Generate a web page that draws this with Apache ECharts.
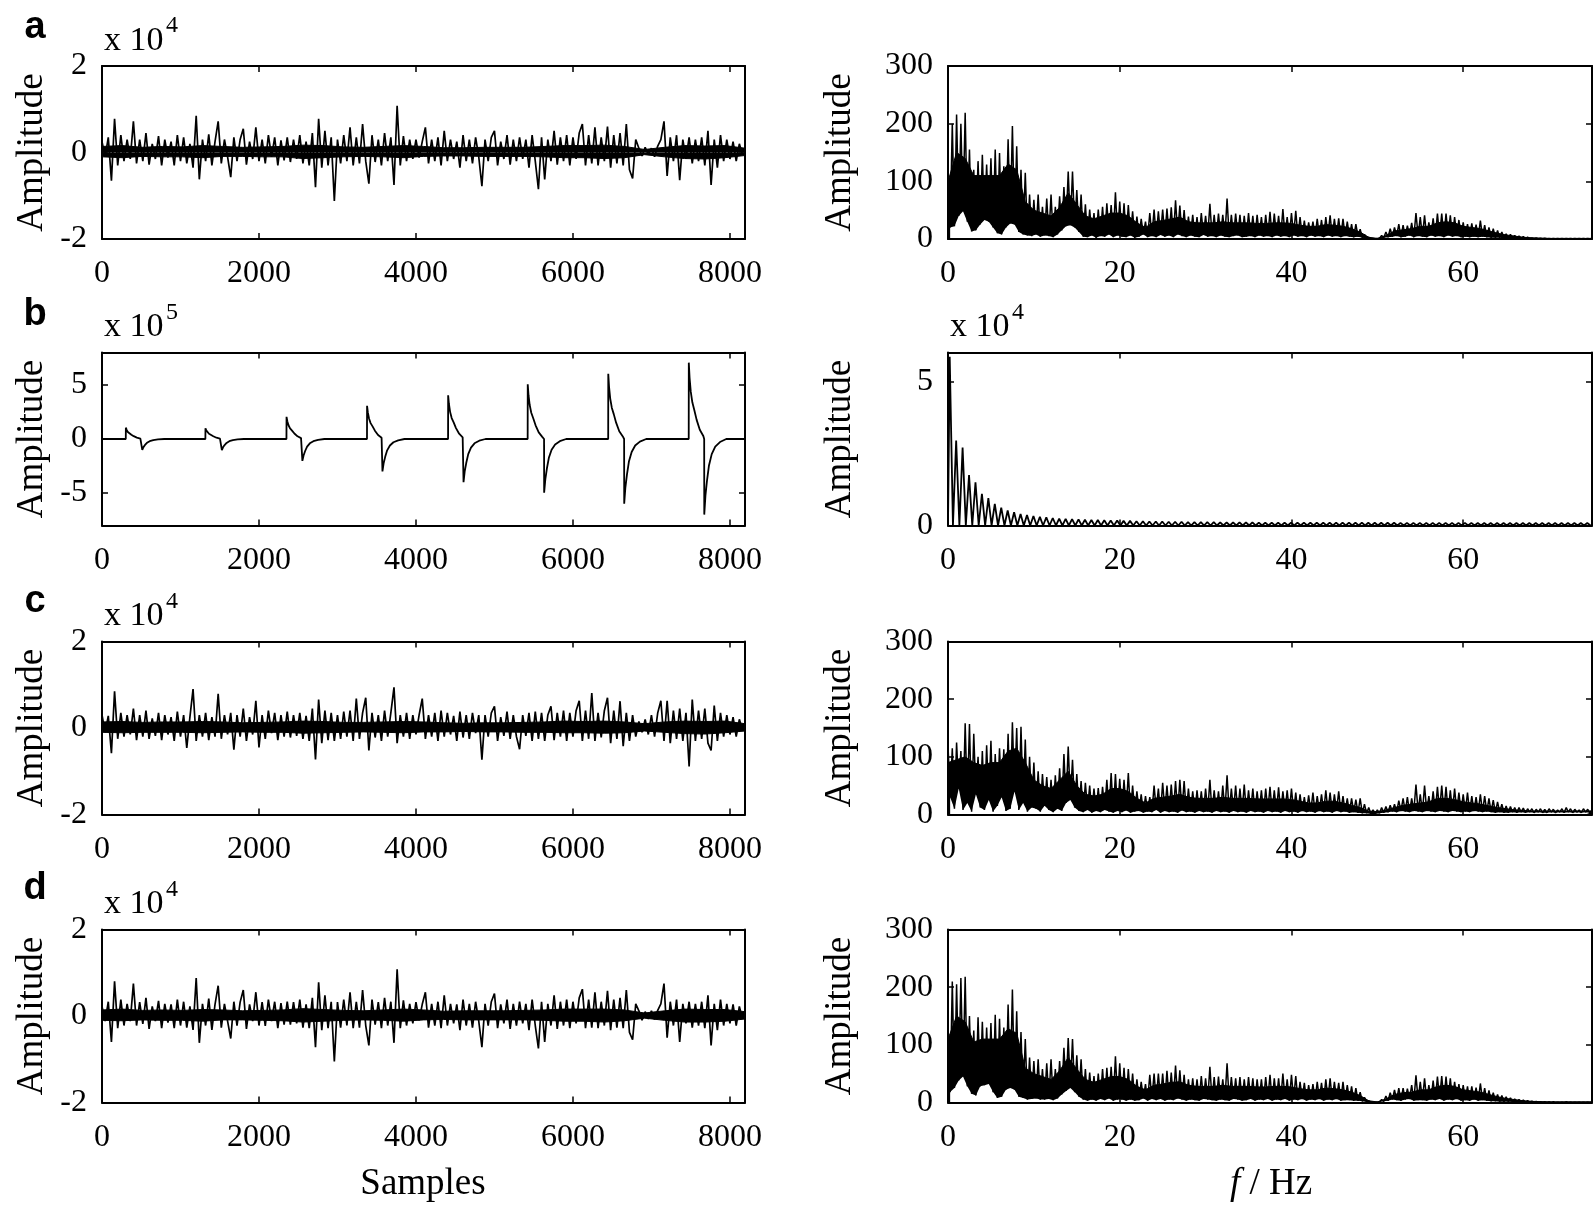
<!DOCTYPE html>
<html><head><meta charset="utf-8">
<script src="https://cdn.jsdelivr.net/npm/echarts/dist/echarts.min.js"></script>
<style>html,body{margin:0;padding:0;background:#fff}#c{width:1594px;height:1207px}</style>
</head><body><div id="c"></div>
<script>
// ---------------- DATA ----------------
// Time signals: one value every SAMPLE_STEP samples (units of the axis multiplier)
const SAMPLE_STEP = 40;
const sampleTicks = [0, 2000, 4000, 6000, 8000];
const freqTicks = [0, 20, 40, 60];
const noiseTicks = [-2, 0, 2];
const pulseTicks = [-5, 0, 5];
const specTicks = [0, 100, 200, 300];
const specBTicks = [0, 5];
const panelLetters = ['a', 'b', 'c', 'd'];
const multipliers = ['4', '5', '4', '4'];

const sigA = [0.25,-0.1,0.35,-0.65,0.78,-0.3,0.4,-0.2,0.3,-0.15,
0.72,-0.25,0.3,-0.2,0.45,-0.28,0.2,-0.15,0.38,-0.3,
0.3,-0.12,0.25,-0.3,0.4,-0.2,0.35,-0.25,0.2,-0.35,
0.85,-0.62,0.3,-0.2,0.42,-0.3,0.25,0.72,-0.25,0.3,
-0.1,-0.57,0.35,-0.2,0.3,0.55,-0.28,0.25,-0.15,0.58,
-0.2,0.3,-0.25,0.4,-0.1,0.35,-0.3,0.28,-0.18,0.35,
-0.22,0.3,-0.15,0.4,-0.25,0.25,-0.3,0.45,-0.8,0.78,
-0.35,0.5,-0.3,0.35,-1.12,0.3,-0.25,0.4,-0.2,0.58,
-0.3,0.35,-0.25,0.66,-0.2,-0.72,0.4,-0.22,0.3,-0.3,
0.45,-0.2,0.35,-0.75,1.08,-0.3,0.38,-0.2,0.3,-0.15,
0.3,-0.12,0.25,0.58,-0.25,0.3,-0.2,0.35,-0.3,0.5,
-0.2,0.3,-0.15,0.25,-0.35,0.4,-0.2,0.3,-0.25,0.35,
-0.1,-0.78,0.3,-0.2,0.35,0.5,-0.3,0.25,-0.15,0.4,
-0.28,0.3,-0.2,0.35,-0.15,0.3,-0.35,0.4,-0.2,-0.85,
0.35,-0.62,0.3,-0.2,0.5,-0.28,0.35,-0.2,0.4,-0.3,
0.35,-0.15,0.45,0.66,-0.3,0.4,-0.25,0.58,-0.3,0.35,
-0.2,0.6,-0.35,0.4,-0.25,0.45,-0.3,0.66,-0.4,-0.6,
0.3,0.1,-0.08,0.12,-0.05,0.1,-0.1,0.15,0.3,0.72,
-0.54,0.35,-0.2,0.4,-0.64,0.3,-0.15,0.35,-0.25,0.3,
-0.2,0.35,-0.3,0.5,-0.75,0.3,-0.35,0.4,-0.2,0.3,
-0.15,0.25,-0.2,0.2,-0.05];

const sigC = [0.3,-0.1,0.28,-0.58,0.85,-0.25,0.35,-0.2,0.3,-0.15,
0.45,-0.28,0.3,-0.2,0.4,-0.25,0.22,-0.18,0.35,-0.28,
0.3,-0.15,0.25,-0.3,0.38,-0.2,0.3,-0.46,0.25,0.9,
-0.3,0.3,-0.2,0.35,-0.28,0.25,-0.2,0.79,-0.25,0.3,
-0.15,0.35,-0.5,0.3,-0.2,0.45,-0.3,0.25,-0.15,0.63,
-0.45,0.3,-0.25,0.4,-0.12,0.35,-0.28,0.3,-0.2,0.38,
-0.22,0.3,-0.18,0.35,-0.25,0.28,-0.3,0.45,-0.73,0.66,
-0.35,0.4,-0.28,0.35,-0.3,0.3,-0.25,0.38,-0.2,0.4,
-0.3,0.68,-0.25,0.35,0.7,-0.52,0.35,-0.22,0.3,-0.3,
0.4,-0.2,0.35,0.94,-0.35,0.3,-0.2,0.35,-0.25,0.3,
-0.15,0.3,0.68,-0.25,0.3,-0.2,0.35,-0.3,0.4,-0.2,
0.35,-0.15,0.28,-0.3,0.38,-0.22,0.3,-0.25,0.35,-0.12,
0.3,-0.73,0.3,-0.2,0.35,0.5,-0.3,0.25,-0.18,0.38,
-0.25,0.3,-0.2,-0.49,0.3,-0.18,0.35,-0.3,0.38,-0.25,
0.35,-0.3,0.3,0.5,-0.28,0.35,-0.2,0.4,-0.3,0.35,
-0.2,0.4,0.63,-0.3,0.4,-0.25,0.81,-0.3,0.35,-0.22,
0.4,0.7,-0.35,0.4,-0.25,0.62,-0.42,0.35,-0.3,0.3,
-0.2,0.15,-0.1,0.2,-0.15,0.3,-0.2,0.35,0.63,-0.3,
0.63,-0.35,0.4,-0.25,0.45,-0.3,0.35,-0.89,0.66,-0.3,
0.4,-0.25,0.45,-0.35,-0.52,0.52,-0.3,0.35,-0.2,0.3,
-0.15,0.25,-0.2,0.2,-0.05];

const sigD = [0.22,-0.12,0.33,-0.6,0.8,-0.28,0.38,-0.22,0.28,-0.12,
0.75,-0.22,0.32,-0.18,0.42,-0.3,0.22,-0.12,0.35,-0.28,
0.28,-0.15,0.27,-0.28,0.38,-0.22,0.33,-0.27,0.22,-0.32,
0.88,-0.62,0.28,-0.22,0.4,-0.32,0.27,0.7,-0.27,0.28,
-0.12,-0.52,0.33,-0.22,0.32,0.6,-0.3,0.27,-0.12,0.55,
-0.22,0.32,-0.23,0.38,-0.12,0.33,-0.28,0.3,-0.2,0.33,
-0.2,0.32,-0.17,0.38,-0.27,0.27,-0.28,0.42,-0.72,0.78,
-0.33,0.48,-0.28,0.33,-1.05,0.32,-0.27,0.38,-0.22,0.55,
-0.28,0.33,-0.27,0.6,-0.22,-0.68,0.38,-0.2,0.32,-0.28,
0.42,-0.22,0.33,-0.62,1.08,-0.28,0.36,-0.22,0.28,-0.17,
0.32,-0.1,0.27,0.55,-0.27,0.28,-0.22,0.33,-0.28,0.48,
-0.22,0.28,-0.17,0.27,-0.33,0.38,-0.22,0.28,-0.27,0.33,
-0.12,-0.72,0.28,-0.22,0.33,0.52,-0.28,0.27,-0.17,0.38,
-0.3,0.28,-0.22,0.33,-0.17,0.28,-0.33,0.38,-0.22,-0.75,
0.33,-0.6,0.28,-0.22,0.48,-0.3,0.33,-0.22,0.38,-0.28,
0.33,-0.17,0.42,0.62,-0.28,0.38,-0.27,0.55,-0.28,0.33,
-0.22,0.58,-0.33,0.38,-0.27,0.42,-0.28,0.6,-0.38,-0.55,
0.28,0.12,-0.1,0.1,-0.07,0.12,-0.08,0.13,0.28,0.75,
-0.5,0.33,-0.22,0.38,-0.6,0.28,-0.17,0.33,-0.27,0.28,
-0.22,0.33,-0.28,0.48,-0.68,0.28,-0.33,0.38,-0.22,0.28,
-0.17,0.27,-0.22,0.22,-0.07];

// Dense core of each noise signal: upper / lower edge every ENV_STEP samples (0..8192)
const ENV_STEP = 256;
const bandAUp = [0.14,0.16,0.12,0.14,0.13,0.16,0.14,0.12,0.13,0.14,0.17,0.16,0.13,0.12,0.14,0.16,0.14,0.11,0.11,0.12,0.12,0.12,0.14,0.16,0.16,0.17,0.14,0.07,0.12,0.16,0.15,0.16,0.1];
const bandALow = [-0.1,-0.12,-0.09,-0.1,-0.1,-0.12,-0.09,-0.09,-0.1,-0.1,-0.14,-0.12,-0.1,-0.09,-0.1,-0.12,-0.09,-0.08,-0.08,-0.09,-0.09,-0.09,-0.1,-0.12,-0.12,-0.14,-0.12,-0.05,-0.1,-0.14,-0.15,-0.12,-0.07];
const bandCUp = [0.14,0.15,0.13,0.14,0.14,0.15,0.14,0.12,0.13,0.14,0.16,0.15,0.13,0.13,0.14,0.15,0.14,0.12,0.11,0.12,0.12,0.13,0.14,0.16,0.15,0.16,0.14,0.1,0.14,0.16,0.15,0.16,0.1];
const bandCLow = [-0.1,-0.11,-0.1,-0.1,-0.1,-0.11,-0.1,-0.09,-0.1,-0.1,-0.12,-0.11,-0.1,-0.09,-0.1,-0.11,-0.09,-0.09,-0.08,-0.09,-0.09,-0.1,-0.1,-0.11,-0.11,-0.12,-0.11,-0.07,-0.1,-0.13,-0.14,-0.11,-0.07];
const bandDUp = [0.14,0.16,0.13,0.14,0.13,0.15,0.14,0.12,0.13,0.14,0.17,0.15,0.13,0.12,0.14,0.16,0.14,0.11,0.12,0.12,0.12,0.13,0.14,0.16,0.16,0.16,0.14,0.07,0.12,0.16,0.15,0.15,0.1];
const bandDLow = [-0.1,-0.11,-0.09,-0.1,-0.1,-0.12,-0.09,-0.09,-0.1,-0.11,-0.14,-0.12,-0.1,-0.09,-0.1,-0.12,-0.09,-0.08,-0.09,-0.09,-0.09,-0.09,-0.1,-0.12,-0.12,-0.14,-0.11,-0.05,-0.1,-0.14,-0.14,-0.12,-0.07];

// Signal b: [sample, value x1e5] read at the pulse onsets and along their decays
const sigB = [[0,0],[303,0],
[304,1.05],[314,0.84],[329,0.65],[349,0.5],[374,0.4],[404,0.26],[444,0.13],[489,0.04],
[512,0],[513,-1.0],[528,-0.75],[548,-0.55],[573,-0.35],[608,-0.2],[653,-0.1],[713,-0.04],[793,0],
[1317,0],[1318,1.0],[1328,0.8],[1343,0.62],[1363,0.48],[1388,0.38],[1418,0.25],[1458,0.12],[1503,0.04],
[1526,0],[1527,-1.02],[1542,-0.77],[1562,-0.56],[1587,-0.36],[1622,-0.2],[1667,-0.1],[1727,-0.04],[1807,0],
[2350,0],[2351,2.05],[2361,1.64],[2376,1.27],[2396,0.98],[2421,0.78],[2451,0.51],[2491,0.25],[2536,0.08],
[2552,0],[2553,-2.02],[2568,-1.52],[2588,-1.11],[2613,-0.71],[2648,-0.4],[2693,-0.2],[2753,-0.08],[2833,0],
[3376,0],[3377,3.07],[3387,2.46],[3402,1.9],[3422,1.47],[3447,1.17],[3477,0.77],[3517,0.37],[3562,0.12],
[3572,0],[3573,-3.0],[3588,-2.25],[3608,-1.65],[3633,-1.05],[3668,-0.6],[3713,-0.3],[3773,-0.12],[3853,0],
[4409,0],[4410,4.05],[4420,3.24],[4435,2.51],[4455,1.94],[4480,1.54],[4510,1.01],[4550,0.49],[4595,0.16],
[4605,0],[4606,-4.0],[4621,-3.0],[4641,-2.2],[4666,-1.4],[4701,-0.8],[4746,-0.4],[4806,-0.16],[4886,0],
[5423,0],[5424,5.06],[5434,4.05],[5449,3.14],[5469,2.43],[5494,1.92],[5524,1.27],[5564,0.61],[5609,0.2],
[5632,0],[5633,-4.97],[5648,-3.73],[5668,-2.73],[5693,-1.74],[5728,-0.99],[5773,-0.5],[5833,-0.2],[5913,0],
[6449,0],[6450,6.04],[6460,4.83],[6475,3.74],[6495,2.9],[6520,2.3],[6550,1.51],[6590,0.72],[6635,0.24],
[6652,0],[6653,-5.98],[6668,-4.49],[6688,-3.29],[6713,-2.09],[6748,-1.2],[6793,-0.6],[6853,-0.24],[6933,0],
[7475,0],[7476,7.06],[7486,5.65],[7501,4.38],[7521,3.39],[7546,2.68],[7576,1.77],[7616,0.85],[7661,0.28],
[7672,0],[7673,-6.99],[7688,-5.24],[7708,-3.84],[7733,-2.45],[7768,-1.4],[7813,-0.7],[7873,-0.28],[7953,0],
[8192,0]];

// Spectra: peak values every 0.5 Hz (0..75) and trough values in between (0.25..74.75)
const FREQ_STEP = 0.5;
const specATop = [100,200,216,200,219,155,120,135,146,129,
140,155,149,126,173,196,161,120,115,77,
68,77,56,70,77,56,74,90,117,117,
85,77,60,51,45,51,56,62,59,81,
65,62,59,48,39,35,30,45,51,48,
51,53,55,67,58,50,39,42,38,45,
40,61,42,44,42,70,42,44,42,40,
45,40,42,38,42,47,44,40,52,38,
45,49,38,32,29,30,35,33,38,41,
35,36,35,30,26,26,17,8,3,1,
1,6,12,18,20,26,24,23,28,45,
38,41,29,36,44,44,44,41,38,33,
29,26,27,25,32,24,20,18,15,12,
9,8,6,5,4,3,2,2,1.5,1.5,
1,1,1,1,1,1,1,1,1,1,1];
const specALow = [20,22,40,48,30,13,15,25,33,30,20,10,8,20,27,25,12,8,6,5,
8,4,6,5,3,8,15,22,24,20,12,4,3,6,2,5,4,8,3,6,
4,3,6,2,4,8,3,5,3,7,4,6,3,8,5,3,6,4,3,7,
4,5,3,6,4,3,5,6,3,4,5,3,6,4,5,3,6,4,5,3,
6,4,5,3,6,4,5,3,6,4,5,3,5,4,3,4,2,1,0.5,0.5,
1,2,3,4,5,3,4,6,3,5,4,3,6,4,5,3,6,4,5,3,
4,3,4,3,4,3,2,2,2,1.5,1.5,1,1,1,0.8,0.8,0.5,0.5,0.5,0.5,
0.5,0.5,0.5,0.5,0.5,0.5,0.5,0.5,0.5,0.5];

const specCTop = [120,115,125,110,158,157,140,100,110,120,
128,105,115,113,140,160,150,152,130,100,
90,75,70,65,60,68,80,105,118,95,
70,58,55,50,45,46,48,60,72,70,
62,60,72,50,40,35,32,30,50,45,
55,50,52,58,60,58,45,40,42,40,
45,60,42,40,50,68,45,50,45,52,
42,45,40,42,45,48,42,47,40,42,
45,38,35,30,33,38,32,35,42,38,
35,40,32,28,28,26,28,18,12,8,
8,12,14,16,18,24,28,30,28,52,
35,50,32,40,48,50,48,42,45,38,
35,38,32,30,35,32,28,25,22,18,
15,14,12,12,11,10,10,9,10,9,
10,9,8,10,12,10,9,8,10,9,8];
const specCLow = [30,10,45,8,20,5,35,12,8,25,5,15,30,6,10,40,8,20,5,12,
10,5,15,8,4,10,6,20,25,12,6,4,8,3,6,4,8,5,3,6,
4,7,3,5,6,3,5,4,8,3,6,4,5,3,7,4,5,3,6,4,
5,3,6,4,5,3,6,4,5,3,6,4,5,3,6,4,5,3,6,4,
5,3,6,4,5,3,6,4,5,3,6,4,5,3,4,3,2,2,1,1,
2,3,4,5,4,6,5,4,6,5,4,6,5,4,6,5,4,6,5,4,
5,4,6,5,4,5,4,3,4,3,3,4,3,4,3,4,3,4,3,3,
4,3,4,3,4,3,4,3,4,3];

const specDTop = [120,210,205,216,218,150,125,148,140,130,
138,152,145,130,170,196,158,122,110,78,
72,75,58,68,75,58,72,95,112,110,
82,75,58,52,46,50,58,60,62,80,
68,60,58,50,40,36,32,48,50,50,
50,55,52,64,56,48,40,42,40,46,
42,62,44,45,40,68,44,42,44,40,
44,42,40,40,44,48,42,42,50,40,
48,46,36,34,30,32,36,34,40,42,
36,34,36,30,28,25,18,9,3,1,
1,5,11,17,22,25,25,24,30,47,
36,42,30,38,45,46,45,42,36,32,
30,28,28,26,33,25,21,17,14,12,
10,8,6,5,4,3,2.5,2,1.5,1.5,
1.2,1.2,1,1,1.2,1,1,1,1,1,1];
const specDLow = [18,25,38,45,28,15,12,28,30,32,18,8,10,22,25,22,10,8,5,6,
7,5,5,6,4,7,14,20,25,18,10,5,3,5,3,6,4,7,3,5,
5,3,5,3,4,7,3,6,4,6,3,5,4,7,5,3,5,4,3,6,
5,4,3,5,4,3,6,5,3,4,6,3,5,4,6,3,5,4,6,3,
5,4,6,3,5,4,6,3,5,4,6,3,4,4,3,3,2,1,0.5,0.5,
1,2,3,5,4,3,5,6,3,4,4,3,5,4,6,3,5,4,6,3,
4,3,5,3,4,3,2,2,1.5,1.5,1.5,1,1,1,0.8,0.8,0.6,0.6,0.5,0.5,
0.5,0.5,0.5,0.5,0.5,0.5,0.5,0.5,0.5,0.5];

// Solid (dense) body of each spectrum, top edge every BODY_STEP Hz (0..75)
const BODY_STEP = 1;
const bodyA = [100,150,140,110,110,110,110,130,120,65,50,45,40,55,80,60,40,35,40,45,
45,40,28,20,30,32,35,38,30,28,28,28,30,28,28,28,27,27,28,28,
27,24,22,22,25,24,22,18,12,3,1,6,14,16,18,22,22,28,30,28,
22,20,18,14,10,7,5,3,2,1.5,1,1,1,1,1,1];
const bodyC = [90,95,100,90,85,90,90,110,115,90,60,50,45,60,75,50,35,32,35,45,
45,40,28,20,28,30,32,35,30,28,28,28,30,28,28,28,27,27,27,27,
26,23,20,20,23,23,20,16,12,6,5,8,12,16,18,20,22,28,28,26,
22,20,18,15,12,10,8,7,6,6,6,6,6,6,6,6];
const bodyD = [110,150,140,105,110,110,110,128,120,60,50,45,40,55,78,58,40,35,40,45,
45,40,28,22,30,32,35,36,30,28,28,28,30,28,28,28,27,27,28,28,
27,24,22,22,25,24,22,18,12,3,1,6,14,17,18,22,22,28,30,28,
22,20,18,14,10,7,5,3,2,1.5,1,1,1,1,1,1];

// Spectrum b (x1e4): comb teeth every SPEC_B_DF Hz starting at SPEC_B_F0, returning to 0 between teeth
const SPEC_B_F0 = 0.2, SPEC_B_DF = 0.75;
const specBPeaks = [5.85,2.95,2.7,1.75,1.5,1.1,0.95,0.75,0.62,0.52,
0.46,0.4,0.36,0.33,0.3,0.28,0.26,0.24,0.23,0.22,
0.21,0.2,0.19,0.19,0.18,0.17,0.17,0.16,0.16,0.15,
0.15,0.14,0.14,0.14,0.13,0.13,0.13,0.12,0.12,0.12,
0.12,0.12,0.11,0.11,0.11,0.11,0.11,0.11,0.1,0.1,
0.1,0.1,0.1,0.1,0.1,0.1,0.1,0.1,0.1,0.1,
0.1,0.1,0.1,0.1,0.1,0.095,0.095,0.095,0.095,0.095,
0.09,0.09,0.09,0.09,0.09,0.09,0.09,0.09,0.09,0.09,
0.09,0.09,0.085,0.085,0.085,0.085,0.085,0.085,0.085,0.085,
0.085,0.085,0.085,0.085,0.085,0.085,0.085,0.085,0.085,0.085];

// ---------------- BUILD ----------------
const stepSeries = (vals, step, off) => vals.map((v, i) => [i * step + (off || 0), v]);
function specSeries(top, low) {
  const out = [];
  for (let i = 0; i < top.length; i++) {
    out.push([i * FREQ_STEP, top[i]]);
    if (i < low.length) out.push([i * FREQ_STEP + FREQ_STEP / 2, low[i]]);
  }
  return out;
}
function combSeries(peaks) {
  const out = [[0, 0]];
  peaks.forEach((p, k) => {
    const f = SPEC_B_F0 + k * SPEC_B_DF;
    out.push([f, p]);
    out.push([f + SPEC_B_DF / 2, 0]);
  });
  return out;
}

const FONT = 'Liberation Serif';
const LEFT_X = 102, LEFT_W = 643, RIGHT_X = 948, RIGHT_W = 644;
const TOPS = [66, 352.5, 641.5, 929.5], H = 173;

const panels = [
  {row:0, left:true,  line: stepSeries(sigA, SAMPLE_STEP), fills:[stepSeries(bandAUp, ENV_STEP), stepSeries(bandALow, ENV_STEP)], x:[0,8192], xt: sampleTicks, y:[-2,2], yt: noiseTicks, w:1.7},
  {row:0, left:false, line: specSeries(specATop, specALow), fills:[stepSeries(bodyA, BODY_STEP)], floor: stepSeries(specALow, FREQ_STEP, FREQ_STEP/2), x:[0,75], xt: freqTicks, y:[0,300], yt: specTicks, w:1.5},
  {row:1, left:true,  line: sigB, fills:[], x:[0,8192], xt: sampleTicks, y:[-8,8], yt: pulseTicks, w:1.8},
  {row:1, left:false, line: combSeries(specBPeaks), fills:[], x:[0,75], xt: freqTicks, y:[0,6], yt: specBTicks, w:1.8},
  {row:2, left:true,  line: stepSeries(sigC, SAMPLE_STEP), fills:[stepSeries(bandCUp, ENV_STEP), stepSeries(bandCLow, ENV_STEP)], x:[0,8192], xt: sampleTicks, y:[-2,2], yt: noiseTicks, w:1.7},
  {row:2, left:false, line: specSeries(specCTop, specCLow), fills:[stepSeries(bodyC, BODY_STEP)], floor: stepSeries(specCLow, FREQ_STEP, FREQ_STEP/2), x:[0,75], xt: freqTicks, y:[0,300], yt: specTicks, w:1.5},
  {row:3, left:true,  line: stepSeries(sigD, SAMPLE_STEP), fills:[stepSeries(bandDUp, ENV_STEP), stepSeries(bandDLow, ENV_STEP)], x:[0,8192], xt: sampleTicks, y:[-2,2], yt: noiseTicks, w:1.7},
  {row:3, left:false, line: specSeries(specDTop, specDLow), fills:[stepSeries(bodyD, BODY_STEP)], floor: stepSeries(specDLow, FREQ_STEP, FREQ_STEP/2), x:[0,75], xt: freqTicks, y:[0,300], yt: specTicks, w:1.5}
];

const grid = [], xAxis = [], yAxis = [], series = [];
const lbl = {color:'#000', fontFamily: FONT, fontSize: 32, formatter: v => String(v)};
const base = {type:'line', showSymbol:false, symbol:'none', silent:true, animation:false, clip:true};
panels.forEach((p, g) => {
  grid.push({left: p.left ? LEFT_X : RIGHT_X, top: TOPS[p.row], width: p.left ? LEFT_W : RIGHT_W, height: H, containLabel:false});
  ['bottom','top'].forEach((pos, j) => {
    xAxis.push({gridIndex:g, type:'value', position:pos, min:p.x[0], max:p.x[1], z:10,
      axisLine:{show:true, onZero:false, lineStyle:{color:'#000', width:2}},
      axisTick:{show:true, inside:true, length:6, customValues:p.xt, lineStyle:{color:'#000', width:1.5}},
      axisLabel: Object.assign({show: j===0, customValues:p.xt, margin:19}, lbl),
      splitLine:{show:false}});
  });
  ['left','right'].forEach((pos, j) => {
    yAxis.push({gridIndex:g, type:'value', position:pos, min:p.y[0], max:p.y[1], z:10,
      axisLine:{show:true, onZero:false, lineStyle:{color:'#000', width:2}},
      axisTick:{show:true, inside:true, length:6, customValues:p.yt, lineStyle:{color:'#000', width:1.5}},
      axisLabel: Object.assign({show: j===0, customValues:p.yt, margin:15}, lbl),
      splitLine:{show:false}});
  });
  const ax = {xAxisIndex:2*g, yAxisIndex:2*g};
  p.fills.forEach(d => series.push(Object.assign({}, base, ax, {data:d, z:2,
    lineStyle:{width:1, color:'#000'}, areaStyle:{color:'#000', opacity:1}})));
  if (p.floor) series.push(Object.assign({}, base, ax, {data:p.floor, z:3,
    lineStyle:{width:0, opacity:0}, areaStyle:{color:'#fff', opacity:1}}));
  series.push(Object.assign({}, base, ax, {data:p.line, z:4, lineStyle:{color:'#000', width:p.w}}));
});

function txt(x, y, text, font, opts) {
  return Object.assign({type:'text', x:x, y:y, silent:true, style:{text:text, font:font, fill:'#000',
    textAlign:(opts&&opts.align)||'center', align:(opts&&opts.align)||'center',
    textVerticalAlign:'middle', verticalAlign:'middle'}}, (opts&&opts.rot)?{rotation:opts.rot}:{});
}
const graphics = [];
const LETTER_Y = [28, 314.5, 601.5, 888.5];
TOPS.forEach((t, r) => {
  const dy = t - TOPS[0];
  const mid = t + H / 2;
  graphics.push(txt(35, LETTER_Y[r], panelLetters[r], 'bold 38px "Liberation Sans"'));
  graphics.push(txt(104, 41 + dy, 'x 10', '34px "' + FONT + '"', {align:'left'}));
  graphics.push(txt(166, 26 + dy, multipliers[r], '24px "' + FONT + '"', {align:'left'}));
  graphics.push(txt(32, mid, 'Amplitude', '37px "' + FONT + '"', {rot: Math.PI/2}));
  graphics.push(txt(840, mid, 'Amplitude', '37px "' + FONT + '"', {rot: Math.PI/2}));
});
graphics.push(txt(950, 41 + TOPS[1] - TOPS[0], 'x 10', '34px "' + FONT + '"', {align:'left'}));
graphics.push(txt(1012, 26 + TOPS[1] - TOPS[0], '4', '24px "' + FONT + '"', {align:'left'}));
graphics.push(txt(423, 1184, 'Samples', '37px "' + FONT + '"'));
graphics.push({type:'text', x:1271, y:1184, silent:true, style:{
  text:'{i|f}{n| / Hz}', fill:'#000', textAlign:'center', align:'center', textVerticalAlign:'middle', verticalAlign:'middle',
  font:'37px "' + FONT + '"',
  rich:{i:{fontFamily:FONT, fontSize:37, fontStyle:'italic', fill:'#000'}, n:{fontFamily:FONT, fontSize:37, fill:'#000'}}}});

const chart = echarts.init(document.getElementById('c'), null, {renderer:'canvas'});
chart.setOption({animation:false, backgroundColor:'#fff', grid, xAxis, yAxis, series, graphic:{elements:graphics}});
</script>
</body></html>
